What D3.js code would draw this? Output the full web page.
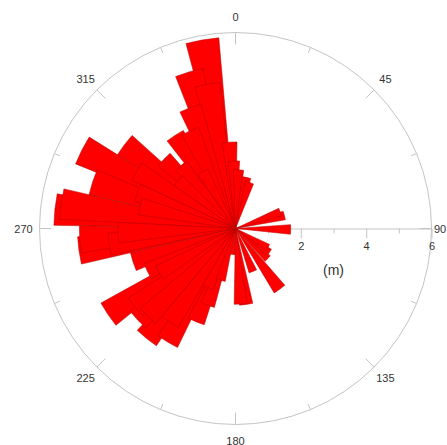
<!DOCTYPE html>
<html>
<head>
<meta charset="utf-8">
<script src="https://cdn.jsdelivr.net/npm/d3@7/dist/d3.min.js"></script>
<style>
  html, body { margin: 0; padding: 0; background: #fff; }
  svg { display: block; font-family: "Liberation Sans", Arial, sans-serif; }
</style>
</head>
<body>
<svg id="chart" width="447" height="445"></svg>
<script>
// ---- data ----
// wedge centre azimuths (degrees clockwise from north) and lengths (m)
const azimuth = [356, 358.5, 3, 12, 17, 70, 75, 91, 120, 125, 133, 144, 158, 172, 176, 186,
                 196, 200, 203, 211, 219, 227, 236, 244, 252, 262, 266, 276, 278, 288, 297,
                 307, 314, 319, 327, 335, 339.5, 343.5, 350,
                 205, 215, 225, 232, 240, 263, 268, 283, 290, 300, 310, 330, 349];
const lengths = [2.65, 2.07, 1.8, 1.6, 1.47, 1.46, 1.55, 1.69, 1.15, 1.27, 1.35, 2.3, 1.42, 2.35, 2.32, 0.8,
                 1.65, 2.5, 3.1, 4.05, 4.33, 4.1, 4.71, 3.0, 3.3, 4.84, 4.78, 5.56, 5.39, 4.6, 5.28,
                 4.26, 3.05, 2.55, 3.4, 3.3, 3.95, 5.0, 5.86,
                 2.0, 3.5, 3.8, 3.9, 2.7, 3.9, 3.6, 3.0, 3.2, 3.5, 2.3, 2.0, 4.5];
const sectorWidth = 10;                       // degrees
const angleTicks = d3.range(0, 360, 22.5);
const angleLabels = [0, 45, 90, 135, 180, 225, 270, 315];
const radialTicks = [0, 1, 2, 3, 4, 5, 6];
const radialLabels = [0, 2, 4, 6];
const radialMax = 6;
const unitLabel = "(m)";

// ---- layout ----
const cx = 235.5, cy = 228.5, R = 196;
const svg = d3.select("#chart");
const g = svg.append("g").attr("transform", `translate(${cx},${cy})`);
const r = d3.scaleLinear().domain([0, radialMax]).range([0, R]);
const rad = d => d * Math.PI / 180;
const grey = "#c4c4c4";

// outer circle
g.append("circle").attr("r", R).attr("fill", "none").attr("stroke", grey).attr("stroke-width", 1);

// angle ticks on the circle
g.selectAll("line.atick").data(angleTicks).join("line")
  .attr("class", "atick")
  .attr("x1", d => R * Math.sin(rad(d)))
  .attr("y1", d => -R * Math.cos(rad(d)))
  .attr("x2", d => (R - (d % 45 === 0 ? 12 : 6)) * Math.sin(rad(d)))
  .attr("y2", d => -(R - (d % 45 === 0 ? 12 : 6)) * Math.cos(rad(d)))
  .attr("stroke", grey).attr("stroke-width", 1);

// angle labels
const LR = 212;
g.selectAll("text.alabel").data(angleLabels).join("text")
  .attr("class", "alabel")
  .attr("x", d => d === 90 ? R + 2.5 : LR * Math.sin(rad(d)))
  .attr("y", d => -LR * Math.cos(rad(d)))
  .attr("text-anchor", d => d === 90 ? "start" : "middle")
  .attr("dominant-baseline", "central")
  .attr("font-size", 11)
  .attr("fill", "#333")
  .text(d => d);

// radial axis along 90°
const axis = d3.axisBottom(r).tickValues(radialTicks).tickSizeInner(10).tickSizeOuter(0).tickPadding(4)
  .tickFormat(d => radialLabels.includes(d) ? d : "");
const ax = g.append("g").call(axis);
ax.select(".domain").attr("stroke", grey);
ax.selectAll(".tick line").attr("stroke", grey).attr("y2", d => (d % 2 === 0 ? 10 : 5));
ax.selectAll(".tick text").attr("font-size", 11).attr("fill", "#333")
  .attr("font-family", "Liberation Sans, Arial, sans-serif");

g.append("text").attr("x", r(3)).attr("y", 41).attr("text-anchor", "middle")
  .attr("dominant-baseline", "central").attr("font-size", 14).attr("fill", "#333").text(unitLabel);

// wedges
const wedges = azimuth.map((a, i) => ({ az: a, len: lengths[i] }))
  .sort((a, b) => b.len - a.len);
const arc = d3.arc().innerRadius(0)
  .outerRadius(d => r(d.len))
  .startAngle(d => rad(d.az - sectorWidth / 2))
  .endAngle(d => rad(d.az + sectorWidth / 2));
g.selectAll("path.wedge").data(wedges).join("path")
  .attr("class", "wedge")
  .attr("d", arc)
  .attr("fill", "#ff0000")
  .attr("stroke", "#b00000")
  .attr("stroke-width", 0.5);
</script>
</body>
</html>
